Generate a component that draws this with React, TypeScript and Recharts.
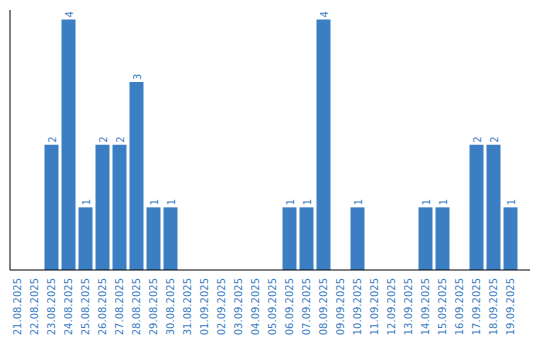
import { BarChart, Bar, XAxis, YAxis, LabelList } from 'recharts'

const dates = [
  '21.08.2025', '22.08.2025', '23.08.2025', '24.08.2025', '25.08.2025',
  '26.08.2025', '27.08.2025', '28.08.2025', '29.08.2025', '30.08.2025',
  '31.08.2025', '01.09.2025', '02.09.2025', '03.09.2025', '04.09.2025',
  '05.09.2025', '06.09.2025', '07.09.2025', '08.09.2025', '09.09.2025',
  '10.09.2025', '11.09.2025', '12.09.2025', '13.09.2025', '14.09.2025',
  '15.09.2025', '16.09.2025', '17.09.2025', '18.09.2025', '19.09.2025',
]
const counts = [0, 0, 2, 4, 1, 2, 2, 3, 1, 1, 0, 0, 0, 0, 0, 0, 1, 1, 4, 0, 1, 0, 0, 0, 1, 1, 0, 2, 2, 1]

const BLUE = '#3b7ec4'
const FONT = 'DejaVu Sans'

const data = dates.map((d, i) => ({ date: d, count: counts[i] }))

const DateTick = (props: any) => {
  const { x, y, payload } = props
  return (
    <text
      x={0}
      y={0}
      transform={`translate(${x + 4},${y}) rotate(-90)`}
      textAnchor="end"
      fill={BLUE}
      fontSize={10}
      style={{ fontFamily: FONT }}
    >
      {payload.value}
    </text>
  )
}

const ValueLabel = (props: any) => {
  const { x, y, width, value } = props
  if (!value) return null
  return (
    <text
      x={0}
      y={0}
      transform={`translate(${x + width / 2 + 4},${y - 2}) rotate(-90)`}
      textAnchor="start"
      fill={BLUE}
      fontSize={10}
      style={{ fontFamily: FONT }}
    >
      {value}
    </text>
  )
}

export default function App() {
  return (
    <BarChart
      width={532}
      height={332}
      data={data}
      margin={{ top: 2, right: 10, bottom: 0, left: 1 }}
      barSize={14}
    >
      <XAxis
        dataKey="date"
        interval={0}
        tickLine={false}
        axisLine={{ stroke: '#000', strokeWidth: 1 }}
        tick={<DateTick />}
        height={70}
        padding={{ left: -1.5, right: 11.5 }}
      />
      <YAxis
        width={1}
        tick={false}
        tickLine={false}
        axisLine={{ stroke: '#000', strokeWidth: 1 }}
        domain={[0, 4.15]}
      />
      <Bar dataKey="count" fill={BLUE} isAnimationActive={false}>
        <LabelList dataKey="count" content={<ValueLabel />} />
      </Bar>
    </BarChart>
  )
}
